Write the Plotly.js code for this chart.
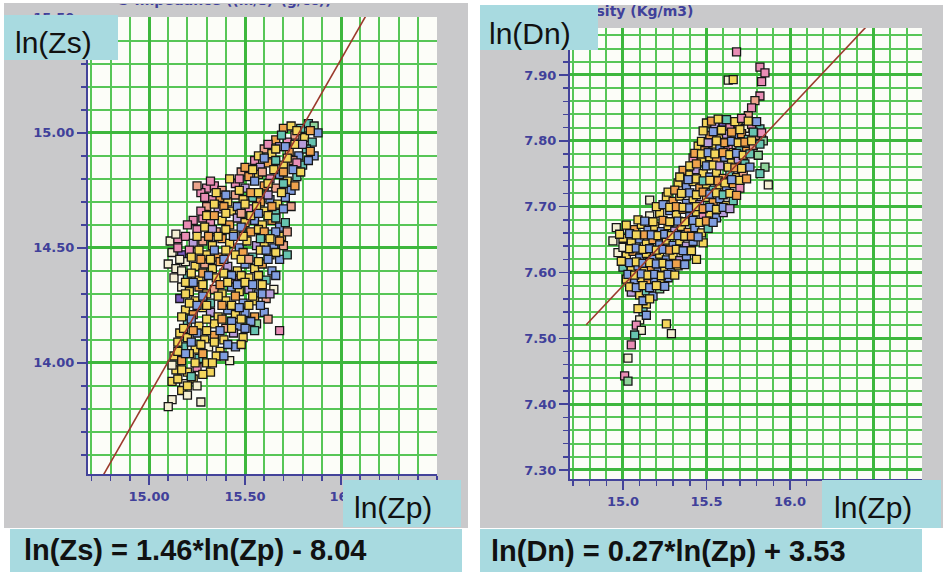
<!DOCTYPE html>
<html>
<head>
<meta charset="utf-8">
<script src="https://cdn.plot.ly/plotly-3.0.1.min.js"></script>
<style>html,body{margin:0;padding:0;background:#fff;}#chart{width:943px;height:572px;}</style>
</head>
<body>
<div id="chart"></div>
<script>
// ---------------- DATA ----------------
// Left panel: ln(Zp) (x) vs ln(Zs) (y)
const zsX = [
 15.70,15.74,15.79,15.83,15.86,15.88,15.76,15.81,15.72,15.85,15.66,
 15.60,15.64,15.68,15.73,15.78,15.82,15.86,15.55,15.62,15.70,15.75,15.80,15.58,
 15.48,15.52,15.57,15.63,15.68,15.72,15.77,15.45,15.50,15.60,15.66,15.74,15.30,15.34,15.27,15.38,
 15.33,15.37,15.41,15.45,15.49,15.54,15.58,15.63,15.67,15.71,15.36,15.43,15.52,15.60,15.66,15.74,
 15.28,15.32,15.38,15.42,15.46,15.50,15.55,15.59,15.64,15.68,15.71,15.25,15.35,15.44,15.53,15.62,15.69,
 15.11,15.15,15.19,15.23,15.28,15.33,15.38,15.42,15.47,15.51,15.56,15.60,15.65,15.70,15.12,15.17,15.21,15.30,15.36,15.45,15.54,15.63,15.68,
 15.10,15.14,15.19,15.24,15.29,15.33,15.37,15.41,15.46,15.50,15.55,15.59,15.64,15.13,15.20,15.26,15.35,15.44,15.52,15.61,
 15.17,15.21,15.26,15.30,15.34,15.38,15.43,15.47,15.52,15.57,15.65,15.16,15.24,15.32,15.40,15.49,15.55,15.61,
 15.19,15.23,15.28,15.32,15.36,15.41,15.45,15.50,15.55,15.60,15.20,15.26,15.34,15.40,15.47,15.56,
 15.16,15.20,15.25,15.29,15.34,15.39,15.44,15.49,15.68,15.18,15.24,15.31,15.37,15.45,
 15.13,15.17,15.21,15.26,15.30,15.35,15.42,15.14,15.20,15.25,15.32,
 15.12,15.18,15.23,15.17,15.20,15.12,15.27,15.10,
 15.77,15.84,15.69,
 15.62,15.66,15.71,15.76,15.80,15.84,
 15.57,15.60,15.66,15.72,15.77,15.83,
 15.50,15.54,15.59,15.65,15.70,15.75,15.79,
 15.42,15.47,15.55,15.62,15.70,15.76,15.32,15.25,
 15.35,15.40,15.47,15.53,15.57,15.62,15.69,15.29,
 15.30,15.34,15.39,15.46,15.50,15.56,15.64,15.70,15.27,
 15.30,15.34,15.40,15.48,15.53,15.57,15.62,15.66,15.23,
 15.20,15.29,15.33,15.40,15.48,15.57,15.60,15.66,15.72,
 15.14,15.25,15.31,15.36,15.44,15.49,15.58,15.63,15.68,
 15.15,15.26,15.34,15.40,15.49,15.58,15.61,15.66,15.72,
 15.16,15.22,15.27,15.32,15.39,15.48,15.52,15.57,15.62,
 15.17,15.22,15.28,15.31,15.39,15.43,15.48,15.57,15.66,
 15.19,15.23,15.28,15.37,15.41,15.46,15.50,15.54,15.59,
 15.19,15.28,15.36,15.45,15.54,15.59,15.63,
 15.21,15.25,15.30,15.38,15.43,15.47,15.52,15.58,
 15.17,15.22,15.30,15.38,15.43,15.48,15.53,15.62,
 15.18,15.23,15.30,15.37,15.43,15.50,15.55,
 15.15,15.22,15.27,15.34,15.41,15.48,
 15.15,15.19,15.24,15.28,15.33,15.39,
 15.12,15.17,15.22,15.28,15.15,15.20,15.25
];
const zsY = [
 15.02,15.03,15.02,15.04,15.03,15.00,14.99,14.98,14.96,14.96,14.97,
 14.93,14.91,14.94,14.92,14.90,14.93,14.90,14.88,14.87,14.86,14.88,14.86,14.85,
 14.83,14.81,14.82,14.80,14.82,14.79,14.81,14.78,14.76,14.77,14.76,14.75,14.76,14.77,14.74,14.75,
 14.71,14.72,14.70,14.73,14.71,14.72,14.70,14.71,14.69,14.72,14.67,14.66,14.67,14.66,14.65,14.68,
 14.63,14.61,14.62,14.60,14.63,14.61,14.62,14.60,14.62,14.59,14.61,14.58,14.57,14.56,14.57,14.56,14.55,
 14.53,14.54,14.55,14.52,14.53,14.51,14.54,14.52,14.50,14.53,14.51,14.52,14.50,14.51,14.48,14.47,14.49,14.47,14.46,14.47,14.46,14.47,14.45,
 14.43,14.41,14.44,14.42,14.43,14.41,14.44,14.42,14.40,14.43,14.41,14.43,14.40,14.37,14.38,14.36,14.37,14.36,14.37,14.36,
 14.33,14.31,14.33,14.30,14.32,14.30,14.33,14.31,14.32,14.30,14.32,14.28,14.27,14.26,14.27,14.26,14.27,14.28,
 14.23,14.21,14.24,14.22,14.20,14.23,14.21,14.22,14.20,14.22,14.17,14.16,14.17,14.15,14.16,14.17,
 14.13,14.11,14.13,14.10,14.12,14.10,14.13,14.11,14.14,14.07,14.06,14.07,14.05,14.07,
 14.03,14.01,14.04,14.02,14.00,14.03,14.01,13.97,13.96,13.98,13.96,
 13.92,13.91,13.93,13.88,13.86,13.84,13.83,13.81,
 15.01,15.01,14.99,
 14.95,14.93,14.94,14.95,14.95,14.92,
 14.90,14.89,14.88,14.89,14.87,14.88,
 14.85,14.84,14.83,14.84,14.83,14.84,14.83,
 14.80,14.80,14.79,14.78,14.78,14.77,14.79,14.77,
 14.74,14.73,14.75,14.74,14.74,14.73,14.74,14.72,
 14.68,14.69,14.68,14.68,14.69,14.68,14.68,14.67,14.66,
 14.64,14.64,14.65,14.65,14.64,14.65,14.64,14.63,14.62,
 14.60,14.59,14.58,14.58,14.59,14.58,14.57,14.57,14.57,
 14.56,14.55,14.55,14.55,14.55,14.55,14.54,14.54,14.53,
 14.50,14.49,14.49,14.49,14.48,14.49,14.49,14.48,14.47,
 14.45,14.46,14.45,14.45,14.45,14.45,14.45,14.44,14.45,
 14.40,14.39,14.39,14.38,14.39,14.38,14.38,14.38,14.38,
 14.35,14.35,14.34,14.34,14.35,14.34,14.35,14.34,14.34,
 14.30,14.29,14.29,14.29,14.29,14.30,14.30,
 14.26,14.25,14.25,14.25,14.25,14.24,14.25,14.25,
 14.20,14.19,14.19,14.19,14.18,14.19,14.18,14.19,
 14.15,14.14,14.14,14.14,14.15,14.15,14.14,
 14.09,14.09,14.08,14.09,14.08,14.08,
 14.05,14.04,14.00,14.04,14.00,14.03,
 13.99,13.97,13.94,13.95,13.93,13.90,13.90
];
const zsC = [
 1,0,5,5,7,4,3,0,2,5,1,
 3,0,6,1,4,5,4,2,1,0,3,5,6,
 3,1,0,2,4,0,5,2,6,1,3,4,2,2,2,3,
 2,1,0,3,0,5,1,4,0,4,6,0,2,0,5,3,
 2,2,0,1,6,0,4,0,1,4,5,2,3,0,1,5,0,
 8,2,2,6,3,0,1,0,4,0,6,0,4,3,8,9,2,0,1,0,5,0,4,
 8,8,8,0,3,0,1,6,0,4,0,1,4,8,5,0,0,2,0,5,
 8,0,1,0,3,0,4,0,6,4,8,9,0,5,0,4,0,3,
 0,1,0,6,0,4,0,4,1,4,5,0,0,3,4,7,
 0,0,4,0,1,0,6,0,2,5,0,8,0,4,
 0,1,0,5,0,0,8,0,0,2,0,
 0,8,0,0,8,8,8,8,
 0,1,5,
 2,0,4,0,6,1,
 0,4,5,0,2,4,
 1,0,3,0,1,4,0,
 0,2,4,0,5,1,2,3,
 0,4,0,1,0,6,0,2,
 3,0,1,4,0,0,1,4,2,
 0,1,0,3,0,4,0,5,2,
 2,0,6,0,4,0,1,4,3,
 8,0,1,0,4,0,5,0,1,
 2,0,4,0,1,0,4,0,5,
 8,0,1,0,4,0,3,0,4,
 8,0,1,4,0,4,0,0,4,
 0,4,0,1,0,4,0,4,0,
 0,4,0,1,0,4,6,
 0,4,0,1,0,4,0,4,
 0,4,0,1,4,0,4,3,
 0,1,0,4,0,4,5,
 0,4,0,0,4,0,
 0,4,0,1,0,4,
 8,0,5,0,0,0,8
];

// Right panel: ln(Zp) (x) vs ln(Dn) (y)
const dnX = [
 15.68,15.63,15.66,15.82,15.85,15.83,15.82,15.79,15.77,15.75,
 15.50,15.55,15.60,15.64,15.69,15.73,15.77,15.82,15.52,15.58,15.62,15.67,15.71,15.75,15.80,15.84,
 15.45,15.49,15.54,15.58,15.63,15.66,15.70,15.74,15.78,15.42,15.47,15.52,15.56,15.61,15.65,15.69,15.73,15.85,
 15.36,15.40,15.44,15.48,15.52,15.56,15.60,15.64,15.68,15.72,15.87,15.33,15.38,15.42,15.46,15.50,15.54,15.58,15.62,15.66,15.70,
 15.16,15.26,15.30,15.34,15.38,15.42,15.46,15.50,15.54,15.58,15.62,15.66,15.16,15.22,15.28,15.32,15.36,15.40,15.44,15.48,15.52,15.56,15.60,
 14.96,15.02,15.07,15.11,15.15,15.19,15.23,15.27,15.31,15.35,15.39,15.43,15.47,15.51,14.94,15.00,15.05,15.10,15.14,15.18,15.22,15.26,15.30,15.34,15.38,15.42,15.48,
 14.97,15.02,15.06,15.10,15.14,15.18,15.22,15.26,15.30,15.34,15.38,15.44,15.00,15.05,15.09,15.13,15.17,15.21,15.25,15.29,15.33,
 15.02,15.07,15.11,15.15,15.19,15.23,15.27,15.05,15.10,15.14,15.18,15.22,
 15.14,15.12,15.10,15.08,15.11,15.07,15.29,15.26,15.05,15.03,15.01,15.03,
 15.53,15.57,15.62,15.67,15.71,15.75,15.80,
 15.48,15.54,15.59,15.65,15.70,15.78,15.83,
 15.47,15.51,15.56,15.61,15.65,15.69,15.73,15.77,15.82,
 15.43,15.47,15.51,15.55,15.60,15.64,15.68,15.72,15.76,15.81,
 15.40,15.44,15.50,15.54,15.58,15.63,15.67,15.71,15.76,
 15.34,15.39,15.44,15.48,15.52,15.57,15.61,15.65,15.70,15.74,15.82,
 15.27,15.31,15.35,15.40,15.44,15.48,15.52,15.56,15.60,15.64,15.68,
 15.20,15.24,15.28,15.32,15.36,15.40,15.44,15.48,15.52,15.56,15.60,15.64,
 15.09,15.13,15.18,15.24,15.28,15.33,15.37,15.42,15.46,15.50,15.54,
 14.98,15.04,15.08,15.13,15.17,15.21,15.25,15.29,15.33,15.37,15.41,15.45,
 15.00,15.04,15.08,15.12,15.16,15.20,15.24,15.28,15.32,15.36,15.41,
 14.99,15.04,15.08,15.12,15.16,15.20,15.24,15.28,15.32,15.37,
 15.03,15.07,15.11,15.15,15.19,15.23,15.27,15.31,
 15.04,15.08,15.12,15.16,15.20,15.25,
 15.12,15.16,15.09,15.14
];
const dnY = [
 7.935,7.892,7.893,7.912,7.903,7.890,7.868,7.861,7.850,7.838,
 7.827,7.822,7.828,7.820,7.826,7.819,7.825,7.818,7.808,7.803,7.810,7.805,7.811,7.802,7.808,7.800,
 7.792,7.785,7.795,7.788,7.792,7.782,7.790,7.784,7.793,7.774,7.768,7.776,7.770,7.775,7.766,7.772,7.765,7.760,
 7.755,7.748,7.756,7.750,7.745,7.752,7.743,7.750,7.744,7.752,7.733,7.736,7.730,7.738,7.728,7.734,7.725,7.733,7.726,7.735,7.728,
 7.710,7.715,7.708,7.716,7.705,7.712,7.703,7.714,7.706,7.712,7.702,7.709,7.686,7.690,7.694,7.688,7.696,7.685,7.692,7.684,7.690,7.683,7.691,
 7.668,7.672,7.665,7.673,7.664,7.670,7.662,7.671,7.663,7.670,7.661,7.668,7.660,7.667,7.648,7.652,7.645,7.651,7.643,7.650,7.642,7.649,7.641,7.648,7.640,7.647,7.645,
 7.630,7.625,7.632,7.622,7.629,7.620,7.628,7.619,7.626,7.618,7.625,7.620,7.608,7.604,7.610,7.602,7.609,7.601,7.608,7.603,7.610,
 7.590,7.585,7.592,7.583,7.590,7.584,7.592,7.570,7.566,7.572,7.564,7.575,
 7.552,7.540,7.528,7.520,7.512,7.505,7.507,7.522,7.490,7.470,7.443,7.435,
 7.830,7.833,7.832,7.829,7.834,7.830,7.829,
 7.815,7.814,7.816,7.813,7.817,7.813,7.812,
 7.799,7.797,7.800,7.797,7.799,7.797,7.798,7.800,7.795,
 7.781,7.780,7.782,7.780,7.782,7.779,7.781,7.778,7.780,7.778,
 7.762,7.765,7.762,7.763,7.762,7.760,7.759,7.758,7.760,
 7.745,7.741,7.742,7.739,7.740,7.739,7.736,7.741,7.740,7.742,7.750,
 7.722,7.725,7.720,7.721,7.718,7.722,7.719,7.721,7.718,7.720,7.717,
 7.700,7.703,7.699,7.700,7.699,7.698,7.700,7.697,7.699,7.696,7.699,7.697,
 7.680,7.678,7.677,7.679,7.677,7.678,7.677,7.679,7.676,7.678,7.676,
 7.658,7.659,7.657,7.657,7.657,7.656,7.658,7.656,7.656,7.655,7.655,7.654,
 7.638,7.636,7.637,7.635,7.636,7.634,7.635,7.634,7.635,7.633,7.633,
 7.617,7.615,7.616,7.614,7.615,7.613,7.614,7.612,7.613,7.612,
 7.597,7.596,7.598,7.596,7.597,7.595,7.597,7.596,
 7.578,7.577,7.580,7.577,7.580,7.579,
 7.557,7.560,7.545,7.535
];
const dnC = [
 2,8,0,2,2,2,2,3,2,3,
 0,6,9,2,0,8,2,5,1,0,6,4,1,5,3,7,
 0,1,0,4,2,0,5,1,3,2,0,0,1,4,0,6,5,7,
 1,0,6,0,4,0,1,5,0,3,8,0,4,0,1,0,5,0,4,1,2,
 8,0,1,0,4,0,6,0,1,4,0,5,8,0,4,0,1,4,0,2,0,4,6,
 8,0,1,0,4,0,4,0,6,0,1,4,0,5,8,0,0,4,0,1,4,0,4,0,6,4,0,
 8,0,1,4,0,4,0,4,0,6,4,0,5,0,4,0,1,4,0,4,0,
 0,4,0,1,4,0,4,6,0,5,4,7,
 0,5,8,2,8,5,8,0,2,8,2,7,
 1,0,5,0,2,0,4,
 0,4,0,1,0,5,2,
 0,6,0,1,4,0,1,0,5,
 1,0,4,0,1,0,4,0,5,7,
 0,1,4,0,6,0,1,0,4,
 0,4,0,5,0,1,0,4,0,1,5,
 0,1,0,4,0,1,4,0,5,0,1,
 0,4,0,1,0,4,0,1,4,0,4,6,
 0,4,0,1,0,4,0,4,0,1,4,
 0,4,0,1,4,0,4,0,4,0,1,4,
 8,0,4,0,4,0,4,1,0,4,0,
 0,4,0,4,0,4,0,4,1,4,
 4,0,4,0,4,0,4,0,
 0,4,0,4,0,4,
 4,0,0,4
];

// marker colour classes
const palette = ['#f3d65c','#efa24c','#e98db5','#eca48c','#7f9ddf','#66c3b0','#b89dda','#8fd39a','#f4efd4','#7a5cc0'];

// regression lines: [slope, intercept] and x extent
const zsFit = [1.46, -8.04];
const dnFit = [0.27, 3.53];
const zsFitX = [14.70, 16.50];
const dnFitX = [14.78, 16.50];

// tick values and labels (labels hidden under the label boxes are blank / cut as in the source)
const zsXTicks = [15.0, 15.5, 16.0];
const zsXLabels = ['15.00', '15.50', '16.'];
const zsYTicks = [14.0, 14.5, 15.0, 15.5];
const zsYLabels = ['14.00', '14.50', '15.00', '15.50'];
const dnXTicks = [15.0, 15.5, 16.0, 16.5];
const dnXLabels = ['15.0', '15.5', '16.0', ''];
const dnYTicks = [7.3, 7.4, 7.5, 7.6, 7.7, 7.8, 7.9];
const dnYLabels = ['7.30', '7.40', '7.50', '7.60', '7.70', '7.80', '7.90'];

// ---------------- STYLE / LAYOUT ----------------
const W = 943, H = 572;
const P = x => x / W;
const Q = y => 1 - y / H;
function steps(a, b, d) { const o = []; for (let k = 0; a + k * d <= b + 1e-9; k++) o.push(+(a + k * d).toFixed(3)); return o; }

const AXIS = '#43439a', TICK = '#40409a', GMAJ = '#3db73d', GMIN = '#57c657';
function axis(o, minorVals) {
  return Object.assign({
    tickmode: 'array', showgrid: true, gridcolor: GMAJ, gridwidth: 3,
    zeroline: false, showline: true, linecolor: AXIS, linewidth: 2,
    ticks: 'outside', ticklen: 9, tickwidth: 1.5, tickcolor: AXIS,
    tickfont: {family: 'DejaVu Sans', size: 13, color: TICK, weight: 'bold'},
    fixedrange: true,
    minor: {tickmode: 'array', tickvals: minorVals, ticks: 'outside', ticklen: 5, tickwidth: 1.5,
            tickcolor: AXIS, showgrid: true, gridcolor: GMIN, gridwidth: 2}
  }, o);
}
function rect(x0, y0, x1, y1, fill, layer) {
  return {type: 'rect', xref: 'paper', yref: 'paper', x0: P(x0), x1: P(x1), y0: Q(y1), y1: Q(y0),
          fillcolor: fill, line: {width: 0}, layer: layer};
}
function label(text, x, y, size, bold) {
  return {xref: 'paper', yref: 'paper', x: P(x), y: Q(y), xanchor: 'left', yanchor: 'middle',
          showarrow: false, text: text,
          font: {family: 'Liberation Sans, Arial', size: size, color: '#111', weight: bold ? 'bold' : 'normal'}};
}

const GREY = '#c9c9cb', BLUE = '#a8dae0', PLOT = '#fcfdf8';
const MK = {symbol: 'square', size: 8, line: {color: '#161616', width: 1.3}};

const traces = [
  {type: 'scatter', mode: 'markers', x: zsX, y: zsY, xaxis: 'x', yaxis: 'y',
   marker: Object.assign({}, MK, {color: zsC.map(i => palette[i])})},
  {type: 'scatter', mode: 'lines', x: zsFitX, y: zsFitX.map(v => zsFit[0] * v + zsFit[1]), xaxis: 'x', yaxis: 'y',
   line: {color: '#9b3a2c', width: 1.6}},
  {type: 'scatter', mode: 'markers', x: dnX, y: dnY, xaxis: 'x2', yaxis: 'y2',
   marker: Object.assign({}, MK, {color: dnC.map(i => palette[i])})},
  {type: 'scatter', mode: 'lines', x: dnFitX, y: dnFitX.map(v => dnFit[0] * v + dnFit[1]), xaxis: 'x2', yaxis: 'y2',
   line: {color: '#9b3a2c', width: 1.6}},
  // cropped axis titles at the very top of the picture
  {type: 'scatter', mode: 'text', x: [225, 645], y: [1, 12], text: ['S-Impedance ((m/s)*(g/cc))', 'sity (Kg/m3)'],
   xaxis: 'x3', yaxis: 'y3', cliponaxis: true, textposition: 'middle center',
   textfont: {family: 'DejaVu Sans', size: 14, color: TICK, weight: 'bold'}}
];

const layout = {
  width: W, height: H, margin: {l: 0, r: 0, t: 0, b: 0},
  paper_bgcolor: '#ffffff', plot_bgcolor: 'rgba(0,0,0,0)',
  showlegend: false, hovermode: false,
  xaxis: axis({domain: [P(88), P(437)], range: [14.682, 16.50], anchor: 'y',
               tickvals: zsXTicks, ticktext: zsXLabels}, steps(14.7, 16.5, 0.1)),
  yaxis: axis({domain: [Q(474), Q(17)], range: [13.517, 15.504], anchor: 'x',
               tickvals: zsYTicks, ticktext: zsYLabels}, steps(13.6, 15.5, 0.1)),
  xaxis2: axis({domain: [P(570), P(922)], range: [14.683, 16.79], anchor: 'y2',
                tickvals: dnXTicks, ticktext: dnXLabels}, steps(14.7, 16.8, 0.1)),
  yaxis2: axis({domain: [Q(479), Q(28)], range: [7.2863, 7.9713], anchor: 'x2',
                tickvals: dnYTicks, ticktext: dnYLabels}, steps(7.30, 7.96, 0.02)),
  xaxis3: {domain: [0, 1], range: [0, W], visible: false, anchor: 'y3', fixedrange: true},
  yaxis3: {domain: [0, Q(4)], range: [H, 4], visible: false, anchor: 'x3', fixedrange: true},
  shapes: [
    rect(4, 3, 468, 528, GREY, 'below'),
    rect(480, 5, 943, 528, GREY, 'below'),
    rect(88, 17, 437, 474, PLOT, 'below'),
    rect(570, 28, 922, 479, PLOT, 'below'),
    rect(4, 15, 118, 60, BLUE, 'above'),
    rect(343, 480, 461, 527, BLUE, 'above'),
    rect(10, 529, 462, 572, BLUE, 'above'),
    rect(480, 5, 598, 50, BLUE, 'above'),
    rect(822, 480, 941, 528, BLUE, 'above'),
    rect(480, 529, 922, 572, BLUE, 'above')
  ],
  annotations: [
    label('ln(Zs)', 13, 42, 30, false),
    label('ln(Zp)', 352, 507, 30, false),
    label('ln(Zs) = 1.46*ln(Zp) - 8.04', 22, 550, 29, true),
    label('ln(Dn)', 487, 33, 30, false),
    label('ln(Zp)', 832, 507, 30, false),
    label('ln(Dn) = 0.27*ln(Zp) + 3.53', 489, 551, 29, true)
  ]
};

Plotly.newPlot('chart', traces, layout, {displayModeBar: false, staticPlot: true});
</script>
</body>
</html>
